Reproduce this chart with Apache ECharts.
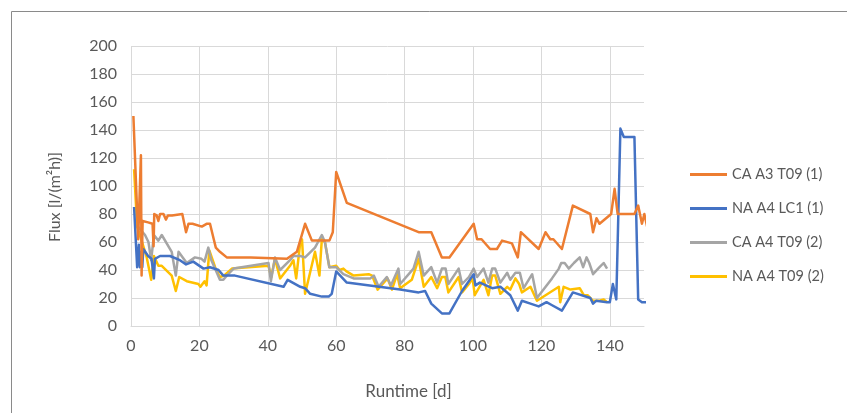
<!DOCTYPE html>
<html>
<head>
<meta charset="utf-8">
<script src="https://cdn.jsdelivr.net/npm/echarts@6/dist/echarts.min.js"></script>
<style>
html,body{margin:0;padding:0;background:#fff;}
#chart{width:847px;height:413px;}
</style>
</head>
<body>
<div id="chart"></div>
<script>
var seriesNames = ['CA A3 T09 (1)', 'NA A4 LC1 (1)', 'CA A4 T09 (2)', 'NA A4 T09 (2)'];
var xTicks = [0, 20, 40, 60, 80, 100, 120, 140];
var yTicks = [0, 20, 40, 60, 80, 100, 120, 140, 160, 180, 200];

var caA3T09 = [[0.7,150],[2.1,62],[2.9,122],[3.1,36],[3.4,75],[5,74],[6.3,73],[6.6,57],[6.8,80],[7.5,79],[8,75],[8.5,80],[9.5,80],[10.2,76],[10.8,79],[12,79],[15,80],[16.1,67],[16.8,73],[18,73],[20.7,71],[22.1,73],[23.1,73],[24.2,62],[24.8,56],[26,53],[28,49],[35,49],[45.6,48],[48.5,53],[50.9,73],[52.9,61],[58,61],[59,67],[60,110],[63.1,88],[84.1,67],[87.8,67],[90.9,49],[93.1,49],[100.2,73],[101.2,62],[102.5,62],[105,55],[107,55],[108.5,61],[111.4,59],[113.1,49],[114,67],[119.2,55],[121.2,67],[122.6,62],[123.5,62],[126,55],[129.2,86],[134.3,80],[135.1,67],[136.1,77],[137,73],[140.4,80],[141.4,98],[142.3,80],[147.2,80],[148.3,86],[149.4,73],[150.1,80],[151,70]];

var naA4LC1 = [[0.9,85],[1.8,42],[2.3,58],[2.6,42],[3,53],[3.3,42],[3.6,55],[5,50],[6,48],[6.7,34],[7,48],[8.5,50],[11.4,50],[14.3,47],[16.1,44],[18.2,46],[21.2,41],[23.1,42],[25.6,40],[27,36],[30.4,36],[44.6,28],[45.8,33],[49.5,28],[50.9,27],[52.4,23],[55.8,21],[57.8,21],[58.7,23],[60,39],[63.1,31],[78.7,26],[84.1,24],[86,25],[87.8,16],[90.9,9],[93.1,9],[96.8,25],[100.2,37],[100.7,29],[102,31],[105.6,27],[108,28],[110.9,22],[113.1,11],[114.3,18],[116.8,16],[119.2,14],[121.5,17],[123,15],[126,11],[129.2,24],[134.3,20],[135.1,16],[136,18],[139.2,17],[140,17],[140.9,30],[141.9,19],[143.1,141],[144.1,135],[147.2,135],[148.3,19],[149.4,17],[151,17]];

var caA4T09 = [[1.7,72],[4.1,65],[5.1,60],[5.9,47],[6.7,65],[8,61],[9,65],[11.9,53],[13.1,36],[13.9,53],[16.3,45],[18.7,49],[20.6,48],[21.5,46],[22.6,56],[23.5,47],[26,33],[27,33],[28,36],[30,41],[40.2,45],[40.9,32],[42.1,49],[43.6,40],[46.5,47],[47.5,50],[49.5,50],[50.9,49],[53.8,56],[55.8,65],[56.7,60],[58,42],[60,42],[62.1,37],[65.1,34],[70,34],[71,36],[72.4,28],[74.8,35],[76,29],[78.2,41],[78.7,30],[82.6,41],[84.1,53],[85.6,36],[87.8,42],[89.5,31],[90.9,41],[92,41],[92.8,30],[95.8,41],[96.8,30],[98.8,35],[100.2,41],[101.2,35],[103.1,41],[104.5,31],[105.6,41],[106.5,41],[108,31],[110,38],[110.9,33],[112.4,38],[113.7,38],[114.8,27],[117.3,37],[118.7,20],[123.1,34],[125.1,41],[125.8,45],[126.8,45],[128,41],[129.5,45],[131.2,49],[132.2,42],[133.2,49],[134,45],[135.1,37],[137,42],[138.2,45],[139.2,41]];

var naA4T09 = [[0.9,112],[1.8,71],[3.1,61],[4.6,49],[5.9,33],[6.7,50],[8,43],[9,43],[11.9,36],[13.1,25],[14.1,35],[16.3,32],[19.7,30],[20.3,28],[21.5,32],[22.1,29],[22.9,54],[24.6,42],[26,35],[27.2,36],[29.5,41],[40.2,43],[41,35],[42.1,48],[43.6,34],[46.5,43],[47.5,47],[48.3,34],[49.5,60],[50,62],[50.9,23],[53.8,53],[55.1,36],[55.8,62],[56.7,60],[58,42],[60,43],[61,40],[62.1,41],[63,39],[65.1,36],[69.5,37],[70.5,36],[72.1,26],[75,34],[76.3,26],[77.8,37],[78.7,27],[82.1,33],[84.1,48],[85.6,28],[87.8,35],[89.5,27],[90.9,35],[91.9,35],[92.8,24],[95.8,35],[96.8,24],[98.8,30],[99.9,34],[100.5,22],[103.1,33],[104.5,22],[105.6,36],[106.5,36],[108,23],[110,28],[110.9,26],[112.4,34],[113.5,30],[114.3,24],[116.8,28],[118.7,18],[125.1,28],[125.5,17],[126.5,28],[128.5,26],[131.2,27],[132.4,22],[133.5,22],[135.1,18],[137,18],[138.2,19],[139.2,17]];

var colors = ['#ED7D31', '#4472C4', '#A5A5A5', '#FFC000'];
var seriesData = [caA3T09, naA4LC1, caA4T09, naA4T09];
var FONT = 'Lato, "Open Sans", sans-serif';
var TXT = '#595959';
var FS = 16;

var chart = echarts.init(document.getElementById('chart'), null, {renderer: 'canvas'});
chart.setOption({
  animation: false,
  color: colors,
  textStyle: {fontFamily: FONT},
  graphic: [{
    type: 'rect', left: 9, top: 9,
    shape: {width: 860, height: 420},
    style: {fill: 'none', stroke: '#8a8a8a', lineWidth: 1},
    silent: true, z: -1
  }],
  grid: {left: 131, top: 46, right: 203, bottom: 87, containLabel: false},
  legend: {
    orient: 'vertical', left: 690, top: 166, itemGap: 17, padding: 0,
    itemWidth: 37, itemHeight: 3, icon: 'rect',
    data: seriesNames,
    textStyle: {fontFamily: FONT, fontSize: 14.5, color: TXT, lineHeight: 17}
  },
  xAxis: {
    type: 'value', min: 0, max: 150, interval: 20,
    name: 'Runtime [d]', nameLocation: 'middle', nameGap: 57,
    nameTextStyle: {fontFamily: FONT, fontSize: 17, color: TXT, padding: [0, 0, 0, 42]},
    axisLine: {show: true, lineStyle: {color: '#d9d9d9', width: 1}},
    axisTick: {show: false},
    axisLabel: {color: TXT, fontSize: FS, fontFamily: FONT, margin: 12, showMaxLabel: false,
      formatter: function(v){ return xTicks.indexOf(v) >= 0 ? String(v) : ''; }},
    splitLine: {show: true, showMaxLine: false, lineStyle: {color: '#d9d9d9', width: 1}}
  },
  yAxis: {
    type: 'value', min: 0, max: 200, interval: 20,
    name: 'Flux [l/(m²h)]', nameLocation: 'middle', nameGap: 68, nameRotate: 90,
    nameTextStyle: {fontFamily: FONT, fontSize: FS, color: TXT, padding: [0, 22, 0, 0]},
    axisLine: {show: false},
    axisTick: {show: false},
    axisLabel: {color: TXT, fontSize: FS, fontFamily: FONT, margin: 14,
      formatter: function(v){ return yTicks.indexOf(v) >= 0 ? String(v) : ''; }},
    splitLine: {show: true, lineStyle: {color: '#d9d9d9', width: 1}}
  },
  series: seriesNames.map(function(n, i){
    return {
      name: n, type: 'line', data: seriesData[i],
      showSymbol: false, symbol: 'none', clip: true,
      lineStyle: {width: 2.5, color: colors[i], join: 'round'},
      itemStyle: {color: colors[i]},
      z: 10 - i
    };
  })
});
</script>
</body>
</html>
